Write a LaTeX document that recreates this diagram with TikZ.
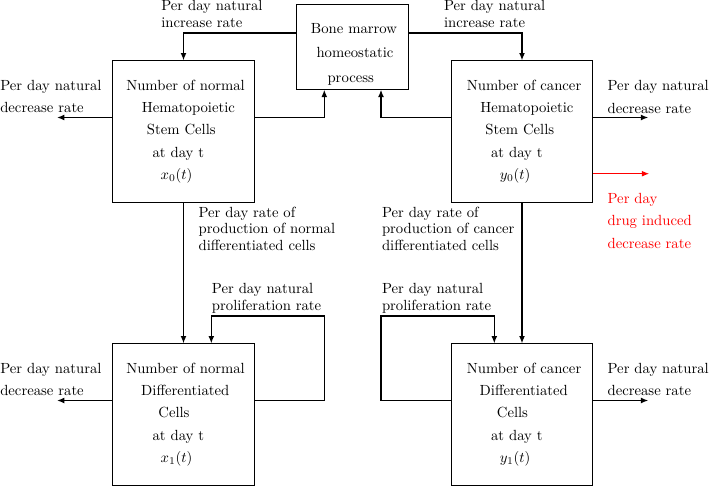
\documentclass[tikz,border=0pt]{standalone}
\usetikzlibrary{arrows.meta}
\newcommand\shf[2]{\mbox{\kern#1\relax#2\kern-#1\relax}}
\begin{document}
\begin{tikzpicture}[x=0.68pt,y=-0.68pt,
  every node/.style={font=\fontsize{10}{11.4}\selectfont, inner sep=0pt},
  box/.style={draw, line width=0.7pt, minimum width=96pt, minimum height=96pt, align=center},
  bmbox/.style={draw, line width=0.7pt, minimum width=76.8pt, minimum height=57.8pt},
  arr/.style={line width=0.9pt, -{Latex[length=5pt,width=4pt]}},
  lbl/.style={anchor=north west, align=left},
]
\useasboundingbox (0,0) rectangle (709,486);
% levels
\coordinate (yt) at (0,33);
\coordinate (ym) at (0,117.5);
\coordinate (yr) at (0,173.7);
\coordinate (yb) at (0,400.5);
\coordinate (xa) at (324.3,0);
\coordinate (xc) at (381,0);
\coordinate (xd) at (211.3,0);
\coordinate (xe) at (494.3,0);
\coordinate (fa) at (57,117.5);
\coordinate (fc) at (648.3,117.5);
\coordinate (fr) at (649.3,173.7);
\coordinate (fd) at (57,400.5);
\coordinate (fe) at (648.3,400.5);
\coordinate (ld) at (324.3,316);
\coordinate (le) at (381,316);
% boxes
\node[box] (A) at (183.5,131.5) {\shf{1.4pt}{Number of normal}\\[3.8pt]\shf{3.3pt}{Hematopoietic}\\[3.8pt]\shf{-1.5pt}{Stem Cells}\\[3.8pt]\shf{-3.5pt}{at day t}\\[3.8pt]\shf{-4.7pt}{$x_0(t)$}};
\node[box] (C) at (522,131.5) {\shf{1.4pt}{Number of cancer}\\[3.8pt]\shf{3.3pt}{Hematopoietic}\\[3.8pt]\shf{-1.5pt}{Stem Cells}\\[3.8pt]\shf{-3.5pt}{at day t}\\[3.8pt]\shf{-4.7pt}{$y_0(t)$}};
\node[box] (D) at (183.5,414.5) {\shf{1.4pt}{Number of normal}\\[3.8pt]\shf{1.2pt}{Differentiated}\\[3.8pt]\shf{-6.5pt}{Cells}\\[3.8pt]\shf{-3.5pt}{at day t}\\[3.8pt]\shf{-4.7pt}{$x_1(t)$}};
\node[box] (E) at (522,414.5) {\shf{1.4pt}{Number of cancer}\\[3.8pt]\shf{1.2pt}{Differentiated}\\[3.8pt]\shf{-6.5pt}{Cells}\\[3.8pt]\shf{-3.5pt}{at day t}\\[3.8pt]\shf{-4.7pt}{$y_1(t)$}};
\node[bmbox, label={[align=center, yshift=-5.1pt]center:{\shf{1pt}{Bone marrow}\\[5.1pt]\shf{1.7pt}{homeostatic}\\[5.1pt]\shf{-1.2pt}{process}}}] (B) at (352.5,46.7) {};
% connectors
\draw[arr] (B.west |- yt) -| (A.north);
\draw[arr] (B.east |- yt) -| (C.north);
\draw[arr] (A.east |- ym) -| (B.south -| xa);
\draw[arr] (C.west |- ym) -| (B.south -| xc);
\draw[arr] (A.west |- ym) -- (fa);
\draw[arr] (C.east |- ym) -- (fc);
\draw[arr, red] (C.east |- yr) -- (fr);
\draw[arr] (A.south) -- (D.north);
\draw[arr] (C.south) -- (E.north);
\draw[arr] (D.east |- yb) -| (ld) -| (D.north -| xd);
\draw[arr] (E.west |- yb) -| (le) -| (E.north -| xe);
\draw[arr] (D.west |- yb) -- (fd);
\draw[arr] (E.east |- yb) -- (fe);
% labels
\node[lbl] (l1) at (161,0) {Per day natural\\increase rate};
\node[lbl] (l2) at (443.7,0) {Per day natural\\increase rate};
\node[lbl] (l3) at (0,79.8) {Per day natural\\[3.6pt]decrease rate};
\node[lbl] (l4) at (607.3,80.5) {Per day natural\\[3.6pt]decrease rate};
\node[lbl, text=red] (l5) at (607.3,192.8) {Per day\\[3.9pt]drug induced\\[3.9pt]decrease rate};
\node[lbl] (l6) at (198.3,206.5) {Per day rate of\\production of normal\\differentiated cells};
\node[lbl] (l7) at (381.7,206.5) {Per day rate of\\production of cancer\\differentiated cells};
\node[lbl] (l8) at (211.7,283.1) {Per day natural\\proliferation rate};
\node[lbl] (l9) at (381.7,283.1) {Per day natural\\proliferation rate};
\node[lbl] (l10) at (0,362.5) {Per day natural\\[3.6pt]decrease rate};
\node[lbl] (l11) at (607.3,362.5) {Per day natural\\[3.6pt]decrease rate};
\end{tikzpicture}
\end{document}
